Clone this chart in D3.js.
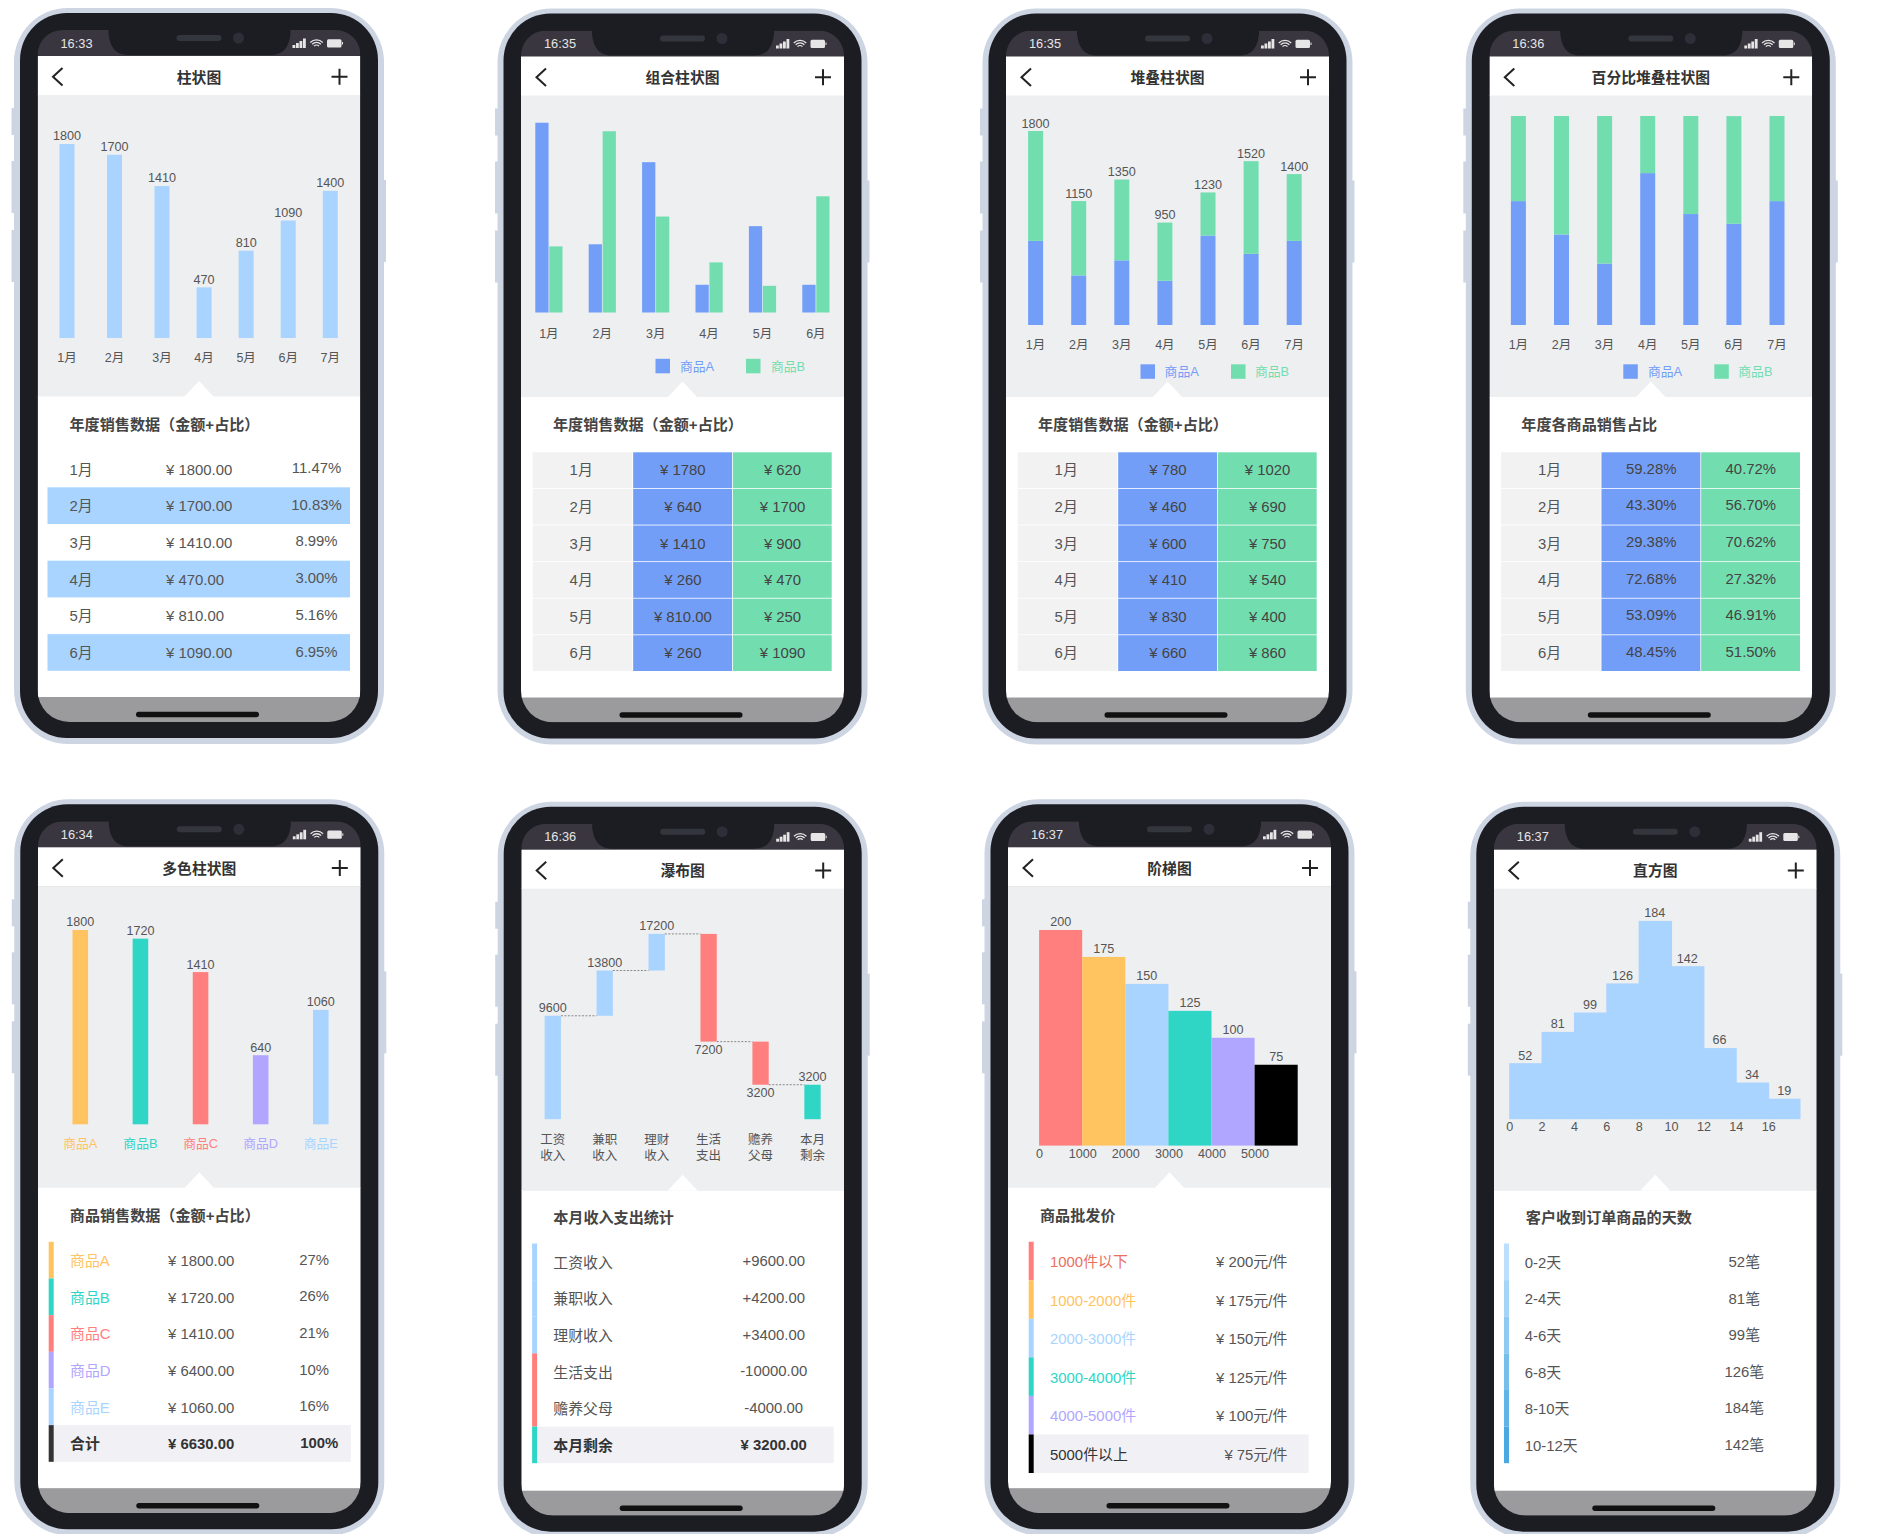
<!DOCTYPE html>
<html>
<head>
<meta charset="utf-8">
<script src="https://d3js.org/d3.v7.min.js"></script>
<style>
  body { margin: 0; background: #fff; }
  text { font-family: "Liberation Sans", "Noto Sans CJK SC", sans-serif; }
</style>
</head>
<body>
<div id="container"></div>
<script>
/** DATA */
const months6 = ["1月", "2月", "3月", "4月", "5月", "6月"];
const months7 = ["1月", "2月", "3月", "4月", "5月", "6月", "7月"];

// 柱状图 (the 7th bar is drawn shorter than its 1400 label in the picture)
const sales = [1800, 1700, 1410, 470, 810, 1090, 1400];
const salesBars = [1800, 1700, 1410, 470, 810, 1090, 1365];
const salesPct = ["11.47%", "10.83%", "8.99%", "3.00%", "5.16%", "6.95%"];

// 组合柱状图
const groupA = [1780, 640, 1410, 260, 810, 260];
const groupB = [620, 1700, 900, 470, 250, 1090];

// 堆叠柱状图
const stackA = [780, 460, 600, 410, 830, 660, 780];
const stackB = [1020, 690, 750, 540, 400, 860, 620];

// 百分比堆叠柱状图
const shareA = [59.28, 43.30, 29.38, 72.68, 53.09, 48.45, 59.28];
const shareB = [40.72, 56.70, 70.62, 27.32, 46.91, 51.50, 40.72];

// 多色柱状图
const products = ["商品A", "商品B", "商品C", "商品D", "商品E"];
const productValues = [1800, 1720, 1410, 640, 1060];
const productAmounts = [1800, 1720, 1410, 6400, 1060];
const productPct = ["27%", "26%", "21%", "10%", "16%"];

// 瀑布图
const flowNames = ["工资收入", "兼职收入", "理财收入", "生活支出", "赡养父母", "本月剩余"];
const flowDeltas = [9600, 4200, 3400, -10000, -4000];
const flowTotal = 3200;

// 阶梯图
const stepLabels = ["1000件以下", "1000-2000件", "2000-3000件", "3000-4000件", "4000-5000件", "5000件以上"];
const stepPrices = [200, 175, 150, 125, 100, 75];
const stepTicks = [0, 1000, 2000, 3000, 4000, 5000];

// 直方图
const histCounts = [52, 81, 99, 126, 184, 142, 66, 34, 19];
const histTicks = [0, 2, 4, 6, 8, 10, 12, 14, 16];
const dayRanges = ["0-2天", "2-4天", "4-6天", "6-8天", "8-10天", "10-12天"];

/** COLORS */
const lightBlue = "#A9D4FF", blue = "#739EF8", green = "#72DEB0",
  orange = "#FFC35F", teal = "#2FD6C6", salmon = "#FF7F7F", purple = "#B1A6FF",
  textColor = "#555", darkText = "#333";

const screenW = 323;
const tableFont = 14.9;
const fmt2 = d3.format(".2f");

const svg = d3.select("#container").append("svg")
  .attr("width", 1886)
  .attr("height", 1534)
  .style("display", "block");

/** HELPERS */
function label(g, x, y, str, o = {}) {
  return g.append("text")
    .attr("x", x)
    .attr("y", y)
    .attr("dy", ".35em")
    .attr("text-anchor", o.anchor || "middle")
    .attr("fill", o.fill || textColor)
    .attr("font-size", o.size || 12.6)
    .attr("font-weight", o.bold ? "bold" : "normal")
    .text(str);
}

function drawPhone(id, ox, oy, time, title, tableTitle) {
  const g = svg.append("g").attr("transform", `translate(${ox},${oy})`);

  // side buttons
  [[52, 27], [105, 52], [174, 52]].forEach(b => {
    g.append("rect").attr("x", -26).attr("y", b[0]).attr("width", 4).attr("height", b[1]).attr("fill", "#CDD5E3");
  });
  g.append("rect").attr("x", 345).attr("y", 124).attr("width", 3.5).attr("height", 82).attr("fill", "#CDD5E3");

  // body
  g.append("rect").attr("x", -23.5).attr("y", -48).attr("width", 370).attr("height", 736).attr("rx", 54).attr("fill", "#CDD5E3");
  g.append("rect").attr("x", -17.5).attr("y", -43).attr("width", 358).attr("height", 725).attr("rx", 47).attr("fill", "#1C1D22");

  // screen: top corners are tighter than the bottom ones
  g.append("clipPath").attr("id", "screen" + id)
    .append("path")
    .attr("d", `M0,0C0,-14 10,-26 26,-26H${screenW - 26}C${screenW - 10},-26 ${screenW},-14 ${screenW},0V634A32,32 0 0 1 ${screenW - 32},666H32A32,32 0 0 1 0,634Z`);
  const s = g.append("g").attr("clip-path", `url(#screen${id})`);
  s.append("rect").attr("y", -26).attr("width", screenW).attr("height", 26.5).attr("fill", "#3A3640");
  s.append("rect").attr("width", screenW).attr("height", 39.5).attr("fill", "#fff");
  s.append("rect").attr("y", 39).attr("width", screenW).attr("height", 302).attr("fill", "#EEEFF1");
  s.append("rect").attr("y", 340.5).attr("width", screenW).attr("height", 301).attr("fill", "#fff");
  s.append("path").attr("d", "M146.5,341L161.5,325L176.5,341Z").attr("fill", "#fff");
  s.append("rect").attr("y", 641).attr("width", screenW).attr("height", 25).attr("fill", "#9B9B9D");
  s.append("rect").attr("x", 98.5).attr("y", 655.7).attr("width", 123).attr("height", 5.5).attr("rx", 2.7).attr("fill", "#111");

  // notch, speaker, camera
  g.append("path")
    .attr("d", "M71,-27L71,-22C73,-8 78,-1 92,-1L232,-1C246,-1 251,-8 253,-22L253,-27Z")
    .attr("fill", "#1C1D22");
  g.append("rect").attr("x", 139).attr("y", -21).attr("width", 45).attr("height", 6).attr("rx", 3).attr("fill", "#34363E");
  g.append("circle").attr("cx", 201).attr("cy", -18).attr("r", 5.5).attr("fill", "#2C2E38");

  // status bar
  label(g, 23, -12.7, time, { anchor: "start", fill: "#E6E6E6", size: 12.8 });
  [3, 5, 7, 9.5].forEach((h, i) => {
    g.append("rect").attr("x", 255 + i * 3.5).attr("y", -8 - h).attr("width", 2.8).attr("height", h).attr("fill", "#E6E6E6");
  });
  [8, 5.4, 2.8].forEach(r => {
    g.append("path")
      .attr("transform", "translate(279,-7.5)")
      .attr("d", d3.arc()({ innerRadius: r, outerRadius: r + 1.3, startAngle: -0.8, endAngle: 0.8 }))
      .attr("fill", "#E6E6E6");
  });
  g.append("rect").attr("x", 289.5).attr("y", -16.8).attr("width", 14.5).attr("height", 8.2).attr("rx", 1.5).attr("fill", "#E6E6E6");
  g.append("rect").attr("x", 304.5).attr("y", -14).attr("width", 1).attr("height", 2.5).attr("fill", "#E6E6E6");

  // header
  g.append("path").attr("d", "M25,12L15.5,20.7L25,29.5").attr("fill", "none").attr("stroke", "#222").attr("stroke-width", 2);
  g.append("path").attr("d", "M294,20.7H310M302,12.7V28.7").attr("fill", "none").attr("stroke", "#222").attr("stroke-width", 2);
  label(g, screenW / 2, 21.5, title, { size: 14.8, bold: true, fill: darkText });

  // table title
  label(g, 32, 368.5, tableTitle, { anchor: "start", size: 15.1, bold: true, fill: "#444" });
  return g;
}

function legend(g, squares, texts, y) {
  [["商品A", blue], ["商品B", green]].forEach((d, i) => {
    g.append("rect").attr("x", squares[i]).attr("y", y).attr("width", 14.5).attr("height", 14.5).attr("fill", d[1]);
    label(g, texts[i], y + 7.5, d[0], { anchor: "start", fill: d[1], size: 12.8 });
  });
}

// table with a gray first column and two colored columns
function colorTable(g, colA, colB, fmtA, fmtB, lift = 0) {
  const y = d3.scaleBand().domain(months6).range([395, 614.5]);
  const x = d3.scaleBand().domain(["m", "a", "b"]).range([11.7, 310.7]);
  const pad = 0.8;
  months6.forEach((m, i) => {
    [["m", "#F2F2F2"], ["a", blue], ["b", green]].forEach(c => {
      g.append("rect")
        .attr("x", x(c[0]) + (c[0] === "m" ? 0 : pad))
        .attr("y", y(m) + pad)
        .attr("width", x.bandwidth() - (c[0] === "m" ? 0 : pad))
        .attr("height", y.bandwidth() - pad)
        .attr("fill", c[1]);
    });
    const cy = y(m) + y.bandwidth() / 2 + 0.4;
    label(g, x("m") + 48.5, cy, m, { size: tableFont });
    label(g, x("a") + 50.5, cy - lift, fmtA(colA[i], i), { size: tableFont, fill: "#444" });
    label(g, x("b") + 50.5, cy - lift, fmtB(colB[i], i), { size: tableFont, fill: "#444" });
  });
}

/** 柱状图 */
function drawBasic() {
  const g = drawPhone(1, 37.5, 56, "16:33", "柱状图", "年度销售数据（金额+占比）");
  // the first three slots are wider than the rest in the original
  const x = d3.scaleLinear().domain([0, 2, 6]).range([29.5, 124.5, 292.8]);
  const y = d3.scaleLinear().domain([0, 1800]).range([282, 88]);
  g.selectAll(".bar").data(salesBars).join("rect")
    .attr("x", (d, i) => x(i) - 7.5)
    .attr("y", d => y(d))
    .attr("width", 15)
    .attr("height", d => y(0) - y(d))
    .attr("fill", lightBlue);
  salesBars.forEach((d, i) => {
    label(g, x(i), y(d) - 8, sales[i]);
    label(g, x(i), 302, months7[i], { size: 12.5 });
  });

  const row = d3.scaleBand().domain(months6).range([394.6, 614.8]);
  months6.forEach((m, i) => {
    const cy = row(m) + row.bandwidth() / 2 + 0.4;
    if (i % 2 === 1) {
      g.append("rect").attr("x", 10).attr("y", row(m)).attr("width", 302.5).attr("height", row.bandwidth()).attr("fill", lightBlue);
    }
    label(g, 32, cy, m, { anchor: "start", size: tableFont });
    label(g, 128.5, cy, "¥ " + fmt2(sales[i]), { anchor: "start", size: tableFont });
    label(g, 279, cy - 1.5, salesPct[i], { size: tableFont });
  });
}

/** 组合柱状图 */
function drawGrouped() {
  const g = drawPhone(2, 521, 56.5, "16:35", "组合柱状图", "年度销售数据（金额+占比）");
  const x = d3.scalePoint().domain(months6).range([27.9, 294.9]);
  const inner = d3.scaleBand().domain(["a", "b"]).range([-13.6, 13.6]).paddingInner(0.05);
  const y = d3.scaleLinear().domain([0, 1800]).range([256, 64.1]);
  [["a", groupA, blue], ["b", groupB, green]].forEach(s => {
    g.selectAll(".bar" + s[0]).data(s[1]).join("rect")
      .attr("x", (d, i) => x(months6[i]) + inner(s[0]))
      .attr("y", d => y(d))
      .attr("width", inner.bandwidth())
      .attr("height", d => y(0) - y(d))
      .attr("fill", s[2]);
  });
  months6.forEach(m => label(g, x(m), 277, m, { size: 12.5 }));
  legend(g, [134.5, 225], [159, 250], 302.3);
  colorTable(g, groupA, groupB, (d, i) => "¥ " + (i === 4 ? fmt2(d) : d), d => "¥ " + d);
}

/** 堆叠柱状图 */
function drawStacked() {
  const g = drawPhone(3, 1006, 56.5, "16:35", "堆叠柱状图", "年度销售数据（金额+占比）");
  const x = d3.scalePoint().domain(months7).range([29.6, 288.2]);
  const y = d3.scaleLinear().domain([0, 1800]).range([268.5, 74.5]);
  const rows = months7.map((m, i) => ({ month: m, a: stackA[i], b: stackB[i] }));
  const layers = d3.stack().keys(["a", "b"])(rows);
  layers.forEach((layer, k) => {
    g.selectAll(".layer" + k).data(layer).join("rect")
      .attr("x", d => x(d.data.month) - 7.5)
      .attr("y", d => y(d[1]))
      .attr("width", 15)
      .attr("height", d => y(d[0]) - y(d[1]))
      .attr("fill", k === 0 ? blue : green);
  });
  rows.forEach(r => {
    label(g, x(r.month), y(r.a + r.b) - 7.7, r.a + r.b);
    label(g, x(r.month), 288, r.month, { size: 12.5 });
  });
  legend(g, [134.5, 225], [158.6, 249], 307.8);
  colorTable(g, stackA, stackB, d => "¥ " + d, d => "¥ " + d);
}

/** 百分比堆叠柱状图 */
function drawPercent() {
  const g = drawPhone(4, 1489.3, 56.5, "16:36", "百分比堆叠柱状图", "年度各商品销售占比");
  const x = d3.scalePoint().domain(months7).range([29.1, 287.7]);
  const y = d3.scaleLinear().domain([0, 100]).range([268.5, 59.5]);
  const rows = months7.map((m, i) => ({ month: m, a: shareA[i], b: shareB[i] }));
  const layers = d3.stack().keys(["a", "b"])(rows);
  layers.forEach((layer, k) => {
    g.selectAll(".layer" + k).data(layer).join("rect")
      .attr("x", d => x(d.data.month) - 7.5)
      .attr("y", d => y(d[1]))
      .attr("width", 15)
      .attr("height", d => y(d[0]) - y(d[1]))
      .attr("fill", k === 0 ? blue : green);
  });
  months7.forEach(m => label(g, x(m), 288, m, { size: 12.5 }));
  legend(g, [134, 225], [158.6, 249], 307.8);
  colorTable(g, shareA, shareB, d => fmt2(d) + "%", d => fmt2(d) + "%", 1.5);
}

// stripe table used by the lower row
function stripeRows(g, names, colors, o) {
  const y = d3.scaleBand().domain(names).range([o.top, o.bottom]);
  names.forEach((n, i) => {
    const last = o.total && i === names.length - 1;
    const cy = y(n) + y.bandwidth() / 2;
    if (last) {
      g.append("rect").attr("x", o.stripeX + 5).attr("y", y(n)).attr("width", o.bgRight - o.stripeX - 5).attr("height", y.bandwidth()).attr("fill", "#F0F0F5");
    }
    g.append("rect").attr("x", o.stripeX).attr("y", y(n)).attr("width", 5).attr("height", y.bandwidth()).attr("fill", colors[i]);
    label(g, o.labelX, cy + 0.8, n, {
      anchor: "start", size: tableFont,
      fill: o.labelFill ? o.labelFill[i] : textColor,
      bold: last && o.boldTotal
    });
    o.cols(i, cy, last);
  });
}

/** 多色柱状图 */
function drawMulti() {
  const g = drawPhone(5, 37.8, 847.3, "16:34", "多色柱状图", "商品销售数据（金额+占比）");
  const colors = [orange, teal, salmon, purple, lightBlue];
  const x = d3.scalePoint().domain(products).range([42.5, 283]);
  const y = d3.scaleLinear().domain([0, 1800]).range([277, 82.7]);
  g.selectAll(".bar").data(productValues).join("rect")
    .attr("x", (d, i) => x(products[i]) - 7.8)
    .attr("y", d => y(d))
    .attr("width", 15.6)
    .attr("height", d => y(0) - y(d))
    .attr("fill", (d, i) => colors[i]);
  productValues.forEach((d, i) => {
    label(g, x(products[i]), y(d) - 8, d);
    label(g, x(products[i]), 296, products[i], { fill: colors[i], size: 12.8 });
  });

  const total = 6630;
  stripeRows(g, [...products, "合计"], [...colors, "#333"], {
    top: 394.5, bottom: 614.5, stripeX: 10.9, bgRight: 313, labelX: 32.2, total: true, boldTotal: true,
    labelFill: [...colors, darkText],
    cols: (i, cy, last) => {
      const opt = { anchor: "start", size: tableFont, bold: last, fill: last ? darkText : textColor };
      label(g, 130.2, cy + 0.8, "¥ " + fmt2(last ? total : productAmounts[i]), opt);
      label(g, 276.4 + (last ? 5 : 0), cy - 0.8, last ? "100%" : productPct[i], { size: tableFont, bold: last, fill: opt.fill });
    }
  });
}

/** 瀑布图 */
function drawWaterfall() {
  const g = drawPhone(6, 521.2, 849.7, "16:36", "瀑布图", "本月收入支出统计");
  const x = d3.scalePoint().domain(flowNames).range([31.6, 291.3]);
  const y = d3.scaleLinear().domain([0, 17200]).range([269.5, 84.2]);
  const w = 16.3;
  const ends = Array.from(d3.cumsum(flowDeltas));
  const bars = flowNames.map((n, i) => {
    if (i === flowDeltas.length) return { name: n, from: 0, to: flowTotal, fill: teal };
    const from = i === 0 ? 0 : ends[i - 1];
    return { name: n, from, to: ends[i], fill: flowDeltas[i] > 0 ? lightBlue : salmon };
  });

  g.selectAll(".bar").data(bars).join("rect")
    .attr("x", d => x(d.name) - w / 2)
    .attr("y", d => y(Math.max(d.from, d.to)))
    .attr("width", w)
    .attr("height", d => Math.abs(y(d.from) - y(d.to)))
    .attr("fill", d => d.fill);

  bars.forEach((d, i) => {
    if (i < bars.length - 1) {
      g.append("line")
        .attr("x1", x(d.name) + w / 2).attr("x2", x(bars[i + 1].name) - w / 2)
        .attr("y1", y(d.to)).attr("y2", y(d.to))
        .attr("stroke", "#888").attr("stroke-dasharray", "2,1.5");
    }
    const down = d.to < d.from;
    label(g, x(d.name), down ? y(d.to) + 8 : y(d.to) - 8, d.to);
    label(g, x(d.name), 289.5, d.name.slice(0, 2), { size: 12.5 });
    label(g, x(d.name), 306, d.name.slice(2), { size: 12.5 });
  });

  const amounts = ["+9600.00", "+4200.00", "+3400.00", "-10000.00", "-4000.00", "¥ 3200.00"];
  stripeRows(g, flowNames, bars.map(d => d.fill), {
    top: 393.8, bottom: 613.5, stripeX: 10.9, bgRight: 312.5, labelX: 32.1, total: true, boldTotal: true,
    labelFill: [textColor, textColor, textColor, textColor, textColor, darkText],
    cols: (i, cy, last) => label(g, 252.5, cy - (last ? 0 : 0.6), amounts[i], { size: tableFont, bold: last, fill: last ? darkText : textColor })
  });
}

/** 阶梯图 */
function drawStep() {
  const g = drawPhone(7, 1008, 847.3, "16:37", "阶梯图", "商品批发价");
  const colors = [salmon, orange, lightBlue, teal, purple, "#000"];
  const x = d3.scaleLinear().domain([0, 6000]).range([31.1, 289.7]);
  const y = d3.scaleLinear().domain([0, 200]).range([298.3, 82.7]);
  const w = x(1000) - x(0);
  g.selectAll(".bar").data(stepPrices).join("rect")
    .attr("x", (d, i) => x(stepTicks[i]))
    .attr("y", d => y(d))
    .attr("width", w)
    .attr("height", d => y(0) - y(d))
    .attr("fill", (d, i) => colors[i]);
  stepPrices.forEach((d, i) => label(g, x(stepTicks[i]) + w / 2, y(d) - 8, d));

  const axis = g.append("g").attr("transform", `translate(0,${y(0)})`)
    .call(d3.axisBottom(x).tickValues(stepTicks).tickSize(0).tickPadding(3).tickFormat(d3.format("d")));
  axis.select(".domain").remove();
  axis.selectAll("text").attr("font-size", 12.6).attr("fill", textColor).style("font-family", "Liberation Sans");

  stripeRows(g, stepLabels, colors, {
    top: 394.4, bottom: 625.7, stripeX: 20.7, bgRight: 300.6, labelX: 42, total: true,
    labelFill: ["#E8705F", orange, lightBlue, teal, purple, darkText],
    cols: (i, cy) => label(g, 279.3, cy + 0.8, `¥ ${stepPrices[i]}元/件`, { anchor: "end", size: tableFont })
  });
}

/** 直方图 */
function drawHistogram() {
  const g = drawPhone(8, 1493.8, 849.7, "16:37", "直方图", "客户收到订单商品的天数");
  const x = d3.scaleLinear().domain([0, 18]).range([15.4, 306.7]);
  const y = d3.scaleLinear().domain([0, 184]).range([269.5, 71.2]);
  const w = x(2) - x(0);
  g.selectAll(".bar").data(histCounts).join("rect")
    .attr("x", (d, i) => x(histTicks[i]))
    .attr("y", d => y(d))
    .attr("width", (d, i) => i < histCounts.length - 1 ? w + 1 : w)
    .attr("height", d => y(0) - y(d))
    .attr("fill", lightBlue);
  histCounts.forEach((d, i) => label(g, x(histTicks[i]) + w / 2, y(d) - 8, d));

  const axis = g.append("g").attr("transform", `translate(0,${y(0)})`)
    .call(d3.axisBottom(x).tickValues(histTicks).tickSize(0).tickPadding(3));
  axis.select(".domain").remove();
  axis.selectAll("text").attr("font-size", 12.6).attr("fill", textColor).style("font-family", "Liberation Sans");

  const stripes = d3.quantize(d3.interpolateRgb("#BBDFFC", "#4AA9E0"), 6);
  stripeRows(g, dayRanges, stripes, {
    top: 393.8, bottom: 613.5, stripeX: 10.2, bgRight: 312, labelX: 30.9,
    cols: (i, cy) => label(g, 250.5, cy, histCounts[i] + "笔", { size: tableFont })
  });
}

drawBasic();
drawGrouped();
drawStacked();
drawPercent();
drawMulti();
drawWaterfall();
drawStep();
drawHistogram();
</script>
</body>
</html>
